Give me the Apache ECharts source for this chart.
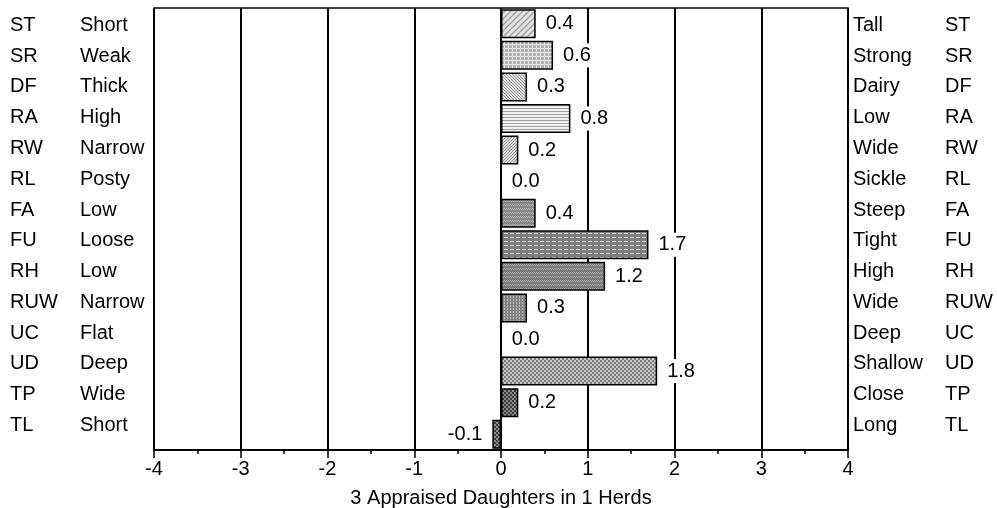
<!DOCTYPE html>
<html>
<head>
<meta charset="utf-8">
<script src="https://cdn.jsdelivr.net/npm/echarts@6/dist/echarts.min.js"></script>
<style>
html,body{margin:0;padding:0;background:#fff;}
#chart{width:997px;height:508px;}
</style>
</head>
<body>
<div id="chart"></div>
<script>
// ---- data ----
var codes = ['ST','SR','DF','RA','RW','RL','FA','FU','RH','RUW','UC','UD','TP','TL'];
var leftLabels = ['Short','Weak','Thick','High','Narrow','Posty','Low','Loose','Low','Narrow','Flat','Deep','Wide','Short'];
var rightLabels = ['Tall','Strong','Dairy','Low','Wide','Sickle','Steep','Tight','High','Wide','Deep','Shallow','Close','Long'];
var values = [0.4, 0.6, 0.3, 0.8, 0.2, 0.0, 0.4, 1.7, 1.2, 0.3, 0.0, 1.8, 0.2, -0.1];
var xTicks = [-4, -3, -2, -1, 0, 1, 2, 3, 4];
var axisTitle = '3 Appraised Daughters in 1 Herds';

// ---- patterns ----
function makePattern(w, h, draw) {
  var c = document.createElement('canvas');
  c.width = w; c.height = h;
  var ctx = c.getContext('2d');
  draw(ctx, w, h);
  return { image: c, repeat: 'repeat' };
}
function fillBg(ctx, w, h, col) { ctx.fillStyle = col; ctx.fillRect(0, 0, w, h); }
var patterns = [
  // ST diagonal hatch
  makePattern(6, 6, function (ctx, w, h) {
    fillBg(ctx, w, h, '#e2e2e2');
    ctx.strokeStyle = '#a0a0a0'; ctx.lineWidth = 1.3;
    ctx.beginPath(); ctx.moveTo(0, 6); ctx.lineTo(6, 0);
    ctx.moveTo(-3, 3); ctx.lineTo(3, -3); ctx.moveTo(3, 9); ctx.lineTo(9, 3); ctx.stroke();
  }),
  // SR grid
  makePattern(4, 4, function (ctx, w, h) {
    fillBg(ctx, w, h, '#b2b2b2');
    ctx.fillStyle = '#e4e4e4'; ctx.fillRect(0, 0, 4, 1); ctx.fillRect(0, 0, 1, 4);
  }),
  // DF fine diagonal dots
  makePattern(3, 3, function (ctx, w, h) {
    fillBg(ctx, w, h, '#e0e0e0');
    ctx.fillStyle = '#959595'; ctx.fillRect(0, 0, 1, 1); ctx.fillRect(1, 1, 1, 1); ctx.fillRect(2, 2, 1, 1);
  }),
  // RA horizontal lines
  makePattern(4, 3, function (ctx, w, h) {
    fillBg(ctx, w, h, '#f0f0f0');
    ctx.fillStyle = '#a0a0a0'; ctx.fillRect(0, 0, 4, 1);
  }),
  // RW fine dots
  makePattern(3, 3, function (ctx, w, h) {
    fillBg(ctx, w, h, '#dcdcdc');
    ctx.fillStyle = '#959595'; ctx.fillRect(0, 0, 1, 1); ctx.fillRect(2, 1, 1, 1); ctx.fillRect(1, 2, 1, 1);
  }),
  // RL
  makePattern(4, 4, function (ctx, w, h) { fillBg(ctx, w, h, '#cccccc'); }),
  // FA wavy dark
  makePattern(4, 4, function (ctx, w, h) {
    fillBg(ctx, w, h, '#888888');
    ctx.fillStyle = '#b4b4b4'; ctx.fillRect(0, 0, 1, 1); ctx.fillRect(1, 1, 1, 1); ctx.fillRect(2, 0, 1, 1); ctx.fillRect(3, 1, 1, 1);
  }),
  // FU dashed white lines
  makePattern(6, 4, function (ctx, w, h) {
    fillBg(ctx, w, h, '#7e7e7e');
    ctx.fillStyle = '#d8d8d8'; ctx.fillRect(0, 1, 4, 1);
  }),
  // RH wavy
  makePattern(4, 4, function (ctx, w, h) {
    fillBg(ctx, w, h, '#7a7a7a');
    ctx.fillStyle = '#acacac'; ctx.fillRect(0, 0, 1, 1); ctx.fillRect(1, 1, 1, 1); ctx.fillRect(2, 0, 1, 1); ctx.fillRect(3, 1, 1, 1);
  }),
  // RUW vertical dotted
  makePattern(3, 3, function (ctx, w, h) {
    fillBg(ctx, w, h, '#838383');
    ctx.fillStyle = '#bdbdbd'; ctx.fillRect(0, 0, 1, 1); ctx.fillRect(0, 2, 1, 1);
  }),
  // UC
  makePattern(4, 4, function (ctx, w, h) { fillBg(ctx, w, h, '#999'); }),
  // UD checker
  makePattern(4, 4, function (ctx, w, h) {
    fillBg(ctx, w, h, '#cccccc');
    ctx.fillStyle = '#787878'; ctx.fillRect(0, 0, 2, 2); ctx.fillRect(2, 2, 2, 2);
  }),
  // TP dark checker
  makePattern(4, 4, function (ctx, w, h) {
    fillBg(ctx, w, h, '#888888');
    ctx.fillStyle = '#3c3c3c'; ctx.fillRect(0, 0, 2, 2); ctx.fillRect(2, 2, 2, 2);
  }),
  // TL dark checker
  makePattern(4, 4, function (ctx, w, h) {
    fillBg(ctx, w, h, '#8c8c8c');
    ctx.fillStyle = '#404040'; ctx.fillRect(0, 0, 2, 2); ctx.fillRect(2, 2, 2, 2);
  })
];

var FONT = 'Liberation Sans, Arial, sans-serif';
var FS = 20;

var seriesData = values.map(function (v, i) {
  return {
    value: v,
    itemStyle: { color: patterns[i], borderColor: '#000', borderWidth: 1.5 },
    label: { position: v < 0 ? 'left' : 'right' }
  };
});

var hiddenAxis = { show: false, axisLine: { show: false }, axisTick: { show: false }, splitLine: { show: false }, axisLabel: { show: false } };

var chart = echarts.init(document.getElementById('chart'), null, { renderer: 'canvas' });
chart.setOption({
  animation: false,
  backgroundColor: '#fff',
  grid: [
    { left: 154, right: 149, top: 8, bottom: 58, show: true, borderColor: '#000', borderWidth: 1.5, containLabel: false, outerBoundsMode: 'none' },
    { left: 154, right: 149, top: 10, bottom: 67.2, show: false, containLabel: false, outerBoundsMode: 'none' }
  ],
  xAxis: [
    {
      type: 'value', gridIndex: 0, min: -4, max: 4, interval: 1,
      axisLine: { show: true, onZero: false, lineStyle: { color: '#000', width: 2 } },
      axisTick: { show: true, length: 8, lineStyle: { color: '#000', width: 1.5 } },
      minorTick: { show: true, splitNumber: 2, length: 4, lineStyle: { color: '#000', width: 1.5 } },
      splitLine: { show: true, lineStyle: { color: '#000', width: 2 } },
      axisLabel: {
        margin: 9, color: '#000', fontFamily: FONT, fontSize: FS,
        formatter: function (v) { return xTicks.indexOf(v) >= 0 ? String(v) : ''; }
      },
      name: axisTitle, nameLocation: 'middle', nameGap: 38,
      nameTextStyle: { color: '#000', fontFamily: FONT, fontSize: FS }
    },
    Object.assign({ type: 'value', gridIndex: 1, min: -4, max: 4 }, hiddenAxis)
  ],
  yAxis: [
    Object.assign({ type: 'category', gridIndex: 0, data: codes, inverse: true }, hiddenAxis),
    {
      type: 'category', gridIndex: 1, data: codes, inverse: true, position: 'left',
      axisLine: { show: false }, axisTick: { show: false }, splitLine: { show: false },
      axisLabel: {
        align: 'left', margin: 144, color: '#000', fontFamily: FONT, fontSize: FS,
        formatter: function (v, i) { return '{c|' + codes[i] + '}{d|' + leftLabels[i] + '}'; },
        rich: {
          c: { width: 70, color: '#000', fontFamily: FONT, fontSize: FS },
          d: { color: '#000', fontFamily: FONT, fontSize: FS }
        }
      }
    },
    {
      type: 'category', gridIndex: 1, data: codes, inverse: true, position: 'right',
      axisLine: { show: false }, axisTick: { show: false }, splitLine: { show: false },
      axisLabel: {
        align: 'left', margin: 5, color: '#000', fontFamily: FONT, fontSize: FS,
        formatter: function (v, i) { return '{d|' + rightLabels[i] + '}{c|' + codes[i] + '}'; },
        rich: {
          d: { width: 92, color: '#000', fontFamily: FONT, fontSize: FS },
          c: { color: '#000', fontFamily: FONT, fontSize: FS }
        }
      }
    }
  ],
  series: [{
    type: 'bar',
    xAxisIndex: 0,
    yAxisIndex: 0,
    data: seriesData,
    barWidth: 29,
    label: {
      show: true, distance: 8, color: '#000', fontFamily: FONT, fontSize: FS,
      backgroundColor: '#fff', padding: [3, 2, 1, 2],
      formatter: function (p) { return p.value.toFixed(1); }
    }
  }]
});
</script>
</body>
</html>
